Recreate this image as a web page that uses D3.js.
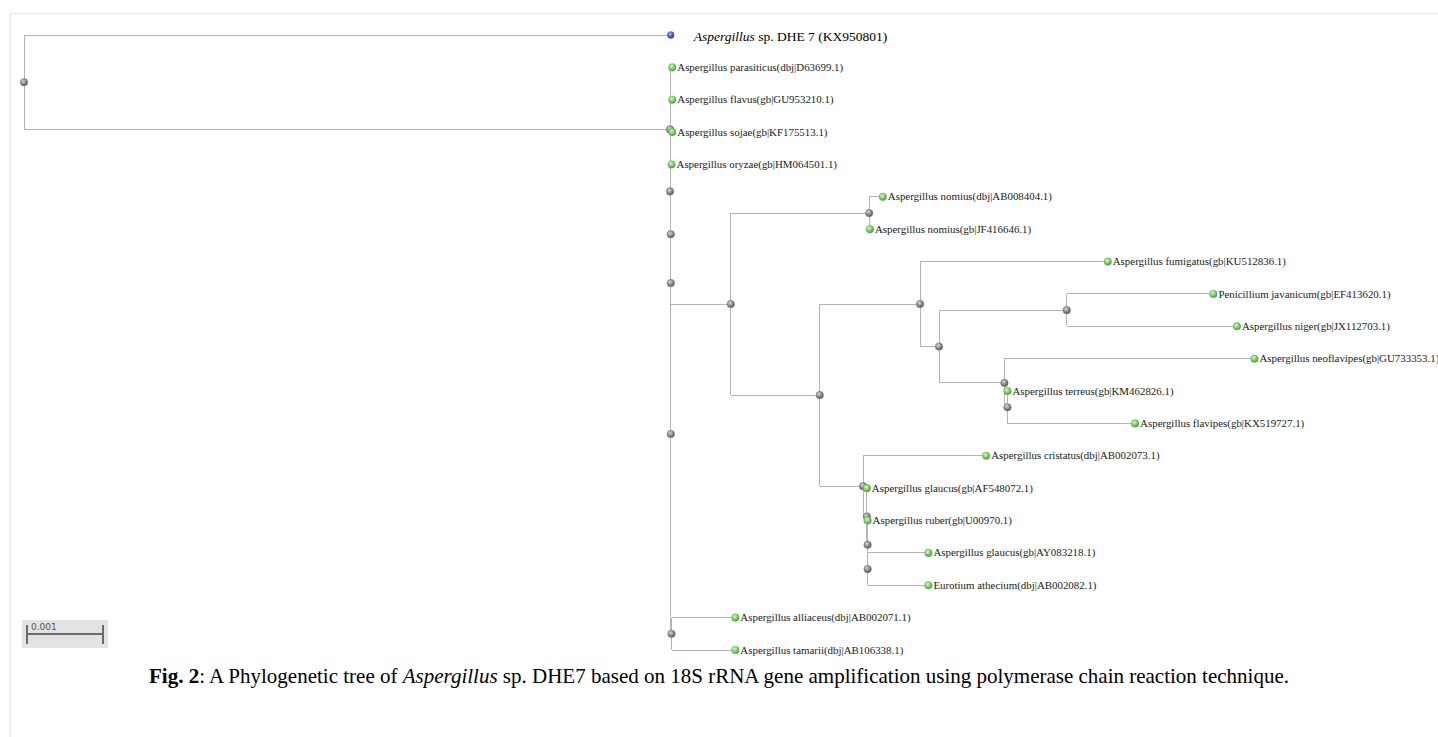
<!DOCTYPE html>
<html>
<head>
<meta charset="utf-8">
<script src="https://cdn.jsdelivr.net/npm/d3@7"></script>
<style>
  html, body { margin: 0; padding: 0; background: #fff; }
  svg { display: block; }
</style>
</head>
<body>
<svg id="chart" width="1438" height="737"></svg>
<script>
// ---------------- DATA ----------------
const nodeIds = ["root","DHE7","n1","parasiticus","n2","flavus","n3","sojae","n4","n5","oryzae","cl","nom","nomius1","nomius2","big","n919","fumigatus","n938","njav","javanicum","niger","nA","neoflavipes","nB","terreus","flavipes","nC","cristatus","nD","glaucusAF","nE","ruber","nF","glaucusAY","eurotium","n634","alliaceus","tamarii"];
const nodeParents = ["","root","root","n1","n1","n2","n2","n3","n3","n4","n5","n5","cl","nom","nom","cl","big","n919","n919","n938","njav","njav","n938","nA","nA","nB","nB","big","nC","nC","nD","nD","nE","nE","nF","nF","n4","n634","n634"];
// branch lengths (substitutions per site)
const branchLengths = [0,0.00851,0.00850,0.00003,0,0.00003,0.00001,0.00002,0,0,0.00001,0.00079,0.00182,0.00018,0.00001,0.00117,0.00132,0.00247,0.00025,0.00168,0.00193,0.00224,0.00086,0.00329,0.00004,0,0.00168,0.00057,0.00162,0.00005,0,0.00001,0,0,0.00080,0.00080,0.00001,0.00084,0.00084];
const leafIds = ["DHE7","parasiticus","flavus","sojae","oryzae","nomius1","nomius2","fumigatus","javanicum","niger","neoflavipes","terreus","flavipes","cristatus","glaucusAF","ruber","glaucusAY","eurotium","alliaceus","tamarii"];
const leafLabels = ["Aspergillus sp. DHE 7 (KX950801)","Aspergillus parasiticus(dbj|D63699.1)","Aspergillus flavus(gb|GU953210.1)","Aspergillus sojae(gb|KF175513.1)","Aspergillus oryzae(gb|HM064501.1)","Aspergillus nomius(dbj|AB008404.1)","Aspergillus nomius(gb|JF416646.1)","Aspergillus fumigatus(gb|KU512836.1)","Penicillium javanicum(gb|EF413620.1)","Aspergillus niger(gb|JX112703.1)","Aspergillus neoflavipes(gb|GU733353.1)","Aspergillus terreus(gb|KM462826.1)","Aspergillus flavipes(gb|KX519727.1)","Aspergillus cristatus(dbj|AB002073.1)","Aspergillus glaucus(gb|AF548072.1)","Aspergillus ruber(gb|U00970.1)","Aspergillus glaucus(gb|AY083218.1)","Eurotium athecium(dbj|AB002082.1)","Aspergillus alliaceus(dbj|AB002071.1)","Aspergillus tamarii(dbj|AB106338.1)"];
const queryId = "DHE7";
const scaleBarValue = 0.001;
const scaleBarLabel = "0.001";
const captionParts = [
  {t:"Fig. 2", w:"bold", s:"normal"},
  {t:": A Phylogenetic tree of ", w:"normal", s:"normal"},
  {t:"Aspergillus", w:"normal", s:"italic"},
  {t:" sp. DHE7 based on 18S rRNA gene amplification using polymerase chain reaction technique.", w:"normal", s:"normal"}
];

// ---------------- BUILD ----------------
const svg = d3.select("#chart");
const W = 1438, H = 737;
svg.append("rect").attr("width", W).attr("height", H).attr("fill", "#fff");

// page frame
svg.append("line").attr("x1", 9).attr("x2", W).attr("y1", 13.5).attr("y2", 13.5)
  .attr("stroke", "#eeeeee").attr("stroke-width", 2);
svg.append("line").attr("x1", 10).attr("x2", 10).attr("y1", 13).attr("y2", H)
  .attr("stroke", "#eeeeee").attr("stroke-width", 2);

const table = nodeIds.map((id, i) => ({id, parent: nodeParents[i], len: branchLengths[i]}));
const root = d3.stratify().id(d => d.id).parentId(d => d.parent || null)(table);

root.each(n => { n.dist = n.parent ? n.parent.dist + n.data.len : 0; });

const x = d3.scaleLinear().domain([0, scaleBarValue]).range([24, 100]);
const y = d3.scaleLinear().domain([0, leafIds.length - 1]).range([35, 650]);

const labelOf = new Map(leafIds.map((id, i) => [id, leafLabels[i]]));
const leafIndex = new Map(leafIds.map((id, i) => [id, i]));

root.eachAfter(n => {
  n.px = x(n.dist);
  if (!n.children) n.py = y(leafIndex.get(n.id));
  else n.py = (n.children[0].py + n.children[n.children.length - 1].py) / 2;
});

// gradients
const defs = svg.append("defs");
function grad(id, c0, c1, c2) {
  const g = defs.append("radialGradient").attr("id", id)
    .attr("cx", "40%").attr("cy", "35%").attr("r", "65%");
  g.append("stop").attr("offset", "0%").attr("stop-color", c0);
  g.append("stop").attr("offset", "55%").attr("stop-color", c1);
  g.append("stop").attr("offset", "100%").attr("stop-color", c2);
}
grad("gGray", "#d8d8d8", "#8a8a8a", "#5a5a5a");
grad("gGreen", "#d8f5cf", "#7fd06b", "#45a332");
grad("gBlue", "#b8c4ff", "#4d63d8", "#2a3a9a");

// branches
const gLinks = svg.append("g").attr("stroke", "#b4b4b4").attr("stroke-width", 1).attr("fill", "none")
  .attr("shape-rendering", "crispEdges");
root.descendants().filter(n => n.children).forEach(n => {
  const c0 = n.children[0], c1 = n.children[n.children.length - 1];
  gLinks.append("line").attr("x1", n.px).attr("x2", n.px).attr("y1", c0.py).attr("y2", c1.py);
  n.children.forEach(c => {
    gLinks.append("line").attr("x1", n.px).attr("x2", c.px).attr("y1", c.py).attr("y2", c.py);
  });
});

// internal nodes
svg.append("g").selectAll("circle")
  .data(root.descendants().filter(n => n.children))
  .join("circle")
  .attr("cx", d => d.px).attr("cy", d => d.py).attr("r", 3.8)
  .attr("fill", "url(#gGray)").attr("stroke", "#777").attr("stroke-width", 0.4);

// leaves
const leaves = root.leaves();
svg.append("g").selectAll("circle")
  .data(leaves)
  .join("circle")
  .attr("cx", d => d.px).attr("cy", d => d.py).attr("r", d => d.id === queryId ? 3.4 : 3.8)
  .attr("fill", d => d.id === queryId ? "url(#gBlue)" : "url(#gGreen)")
  .attr("stroke", d => d.id === queryId ? "#3a4aa0" : "#56a846").attr("stroke-width", 0.4);

// leaf labels
const gLab = svg.append("g").attr("font-family", "'Liberation Serif', 'Times New Roman', serif").attr("fill", "#1a1a1a");
leaves.forEach(n => {
  const lab = labelOf.get(n.id);
  if (n.id === queryId) {
    const t = gLab.append("text").attr("x", n.px + 23).attr("y", n.py + 5.5).attr("font-size", 13.5).attr("fill", "#000");
    const sp = lab.indexOf(" ");
    t.append("tspan").attr("font-style", "italic").text(lab.slice(0, sp));
    t.append("tspan").text(lab.slice(sp));
  } else {
    gLab.append("text").attr("x", n.px + 5).attr("y", n.py + 3.6).attr("font-size", 10.9).text(lab);
  }
});

// scale bar
const sb = svg.append("g");
const sbX0 = x(0) + 3, sbX1 = sbX0 + (x(scaleBarValue) - x(0));
sb.append("rect").attr("x", sbX0 - 5).attr("y", 620).attr("width", sbX1 - sbX0 + 10).attr("height", 28).attr("fill", "#e3e3e3");
sb.append("line").attr("x1", sbX0).attr("x2", sbX1).attr("y1", 634).attr("y2", 634).attr("stroke", "#6a6a6a").attr("stroke-width", 2);
sb.append("line").attr("x1", sbX0).attr("x2", sbX0).attr("y1", 625).attr("y2", 644).attr("stroke", "#6a6a6a").attr("stroke-width", 2);
sb.append("line").attr("x1", sbX1).attr("x2", sbX1).attr("y1", 625).attr("y2", 644).attr("stroke", "#6a6a6a").attr("stroke-width", 2);
sb.append("text").attr("x", sbX0 + 4).attr("y", 630).attr("font-family", "'DejaVu Sans', Arial, sans-serif")
  .attr("font-size", 9).attr("fill", "#555").text(scaleBarLabel);

// caption
const cap = svg.append("text").attr("x", W / 2).attr("y", 683).attr("text-anchor", "middle")
  .attr("font-family", "'Liberation Serif', 'Times New Roman', serif").attr("font-size", 21).attr("fill", "#000");
captionParts.forEach(p => cap.append("tspan").attr("font-weight", p.w).attr("font-style", p.s).text(p.t));
</script>
</body>
</html>
